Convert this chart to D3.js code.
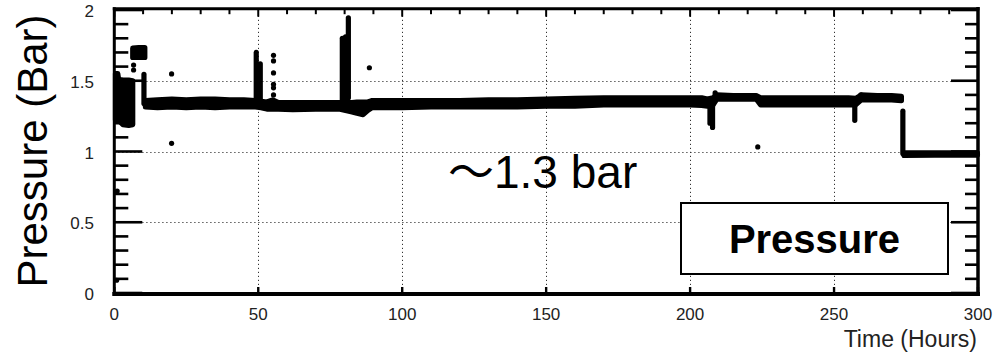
<!DOCTYPE html>
<html>
<head>
<meta charset="utf-8">
<script src="https://cdn.jsdelivr.net/npm/d3@7"></script>
<style>
  html, body { margin: 0; padding: 0; background: #fff; }
  svg { display: block; }
  text { font-family: "Liberation Sans", Arial, Helvetica, "Noto Sans CJK JP", sans-serif; }
</style>
</head>
<body>
<svg id="chart" width="996" height="353"></svg>
<script>
// Axis ticks
const timeTicks = [0, 50, 100, 150, 200, 250, 300];
const timeTickLabels = ["0", "50", "100", "150", "200", "250", "300"];
const pressureTicks = [0, 0.5, 1, 1.5, 2];
const pressureTickLabels = ["0", "0.5", "1", "1.5", "2"];

// Steady running: envelope of the dense stream of readings (hours, bar)
const bandHours = [10.8, 15, 20, 25, 30, 35, 40, 45, 49, 51,
                   53, 55, 57, 62, 70, 78, 82.6, 84.3, 86.4, 88,
                   89.6, 95, 100, 110, 120, 130, 140, 150, 160, 170,
                   180, 190, 200, 204, 206, 208, 209.3, 215, 223, 224.5,
                   230, 240, 250, 255, 257.5, 259.5, 265, 270, 273.4];
const bandLow = [1.315, 1.31, 1.315, 1.31, 1.315, 1.31, 1.315, 1.315, 1.315, 1.31,
                 1.30, 1.30, 1.30, 1.295, 1.30, 1.30, 1.28, 1.27, 1.26, 1.29,
                 1.31, 1.31, 1.31, 1.315, 1.315, 1.315, 1.315, 1.32, 1.32, 1.33,
                 1.33, 1.33, 1.33, 1.325, 1.32, 1.33, 1.37, 1.37, 1.37, 1.33,
                 1.33, 1.33, 1.33, 1.33, 1.33, 1.365, 1.365, 1.365, 1.36];
const bandHigh = [1.36, 1.365, 1.37, 1.365, 1.37, 1.37, 1.365, 1.365, 1.36, 1.355,
                  1.35, 1.365, 1.345, 1.345, 1.345, 1.345, 1.345, 1.35, 1.35, 1.35,
                  1.36, 1.36, 1.36, 1.36, 1.36, 1.365, 1.365, 1.37, 1.375, 1.38,
                  1.38, 1.38, 1.38, 1.38, 1.37, 1.38, 1.40, 1.395, 1.395, 1.38,
                  1.38, 1.38, 1.38, 1.38, 1.375, 1.40, 1.395, 1.395, 1.39];

// Filling phase: scattered readings during the first hours
const startHours = [0.4, 1.2, 1.5, 3, 5, 6.4];
const startLow = [1.225, 1.225, 1.22, 1.19, 1.185, 1.19];
const startHigh = [1.55, 1.55, 1.51, 1.505, 1.505, 1.50];

// Over-pressure cluster just after filling
const clusterHours = [6.4, 8.5, 10.6];
const clusterLow = [1.665, 1.665, 1.665];
const clusterHigh = [1.73, 1.735, 1.735];

// After venting to atmosphere
const tailHours = [274.3, 285, 299.8];
const tailLow = [0.972, 0.975, 0.975];
const tailHigh = [0.99, 0.99, 0.99];

// Bursts: many readings stacked at nearly the same hour
const burstHours = [10.3, 49.3, 50.7, 79.2, 80.3, 81.3, 206.9, 207.8, 208.7, 257.2, 259.3, 273.9];
const burstLow  = [1.34, 1.38, 1.37, 1.34, 1.34, 1.38, 1.20, 1.17, 1.37, 1.22, 1.37, 0.985];
const burstHigh = [1.545, 1.70, 1.62, 1.80, 1.81, 1.945, 1.36, 1.34, 1.415, 1.36, 1.40, 1.285];

// Isolated readings
const pointHours = [19.9, 19.9, 6.7, 6.7, 55.3, 55.3, 55.3, 55.3, 55.3, 55.3, 88.6, 223.5, 1.0, 0.8];
const pointPressure = [1.548, 1.058, 1.611, 1.576, 1.68, 1.64, 1.555, 1.475, 1.45, 1.40, 1.592, 1.032, 0.72, 0.09];

const svg = d3.select("#chart");
const x = d3.scaleLinear().domain([0, 300]).range([114.3, 978]);
const y = d3.scaleLinear().domain([0, 2]).range([293, 10]);
const markerR = 2.6;

// Dotted grid
const grid = svg.append("g").attr("stroke", "#333").attr("stroke-width", 1)
  .attr("stroke-dasharray", "1.2,2.8");
grid.selectAll("line.v").data(timeTicks.slice(1, -1)).join("line")
  .attr("x1", d => Math.round(x(d)) + 0.5).attr("x2", d => Math.round(x(d)) + 0.5)
  .attr("y1", y(0)).attr("y2", y(2));
grid.selectAll("line.h").data(pressureTicks.slice(1, -1)).join("line")
  .attr("y1", d => Math.round(y(d)) + 0.5).attr("y2", d => Math.round(y(d)) + 0.5)
  .attr("x1", x(0)).attr("x2", x(300));

// Readings
const data = svg.append("g").attr("fill", "#000").attr("stroke", "#000");
const area = d3.area().x(d => x(d.t)).y0(d => y(d.lo)).y1(d => y(d.hi));
function envelope(hours, low, high) {
  const rows = hours.map((t, i) => ({ t, lo: low[i], hi: high[i] }));
  data.append("path").datum(rows).attr("d", area)
    .attr("stroke-width", markerR * 2).attr("stroke-linejoin", "round");
}
envelope(startHours, startLow, startHigh);
envelope(clusterHours, clusterLow, clusterHigh);
envelope(bandHours, bandLow, bandHigh);
envelope(tailHours, tailLow, tailHigh);

data.selectAll("line.burst").data(burstHours.map((t, i) => ({ t, lo: burstLow[i], hi: burstHigh[i] })))
  .join("line")
  .attr("x1", d => x(d.t)).attr("x2", d => x(d.t))
  .attr("y1", d => y(d.lo)).attr("y2", d => y(d.hi))
  .attr("stroke-width", markerR * 2).attr("stroke-linecap", "round");

data.selectAll("circle").data(pointHours.map((t, i) => ({ t, p: pointPressure[i] })))
  .join("circle")
  .attr("cx", d => x(d.t)).attr("cy", d => y(d.p)).attr("r", markerR).attr("stroke", "none");

// Annotation
svg.append("text").attr("x", 448).attr("y", 188).attr("font-size", 46).attr("fill", "#000")
  .text("～1.3 bar");

// Legend box
svg.append("rect").attr("x", 681).attr("y", 203).attr("width", 267).attr("height", 71)
  .attr("fill", "#fff").attr("stroke", "#000").attr("stroke-width", 2);
svg.append("text").attr("x", 814.5).attr("y", 253).attr("text-anchor", "middle")
  .attr("font-size", 40).attr("font-weight", "bold").attr("fill", "#000").text("Pressure");

// Tick marks
const ticks = svg.append("g").attr("stroke", "#000");
const isMajorY = v => Math.abs(v * 2 - Math.round(v * 2)) < 1e-6;
const yMinor = y.ticks(20);
ticks.selectAll("line.yl").data(yMinor).join("line")
  .attr("x1", x(0)).attr("x2", d => x(0) + (isMajorY(d) ? 28 : 14))
  .attr("y1", d => y(d)).attr("y2", d => y(d)).attr("stroke-width", 2.6);
ticks.selectAll("line.yr").data(yMinor).join("line")
  .attr("x1", x(300)).attr("x2", d => x(300) - (isMajorY(d) ? 27 : 13))
  .attr("y1", d => y(d)).attr("y2", d => y(d)).attr("stroke-width", 2.6);
const xMinor = x.ticks(30);
ticks.selectAll("line.xt").data(xMinor).join("line")
  .attr("x1", d => x(d)).attr("x2", d => x(d))
  .attr("y1", 8.7).attr("y2", d => 8.7 + (d % 50 === 0 ? 8 : 5.5)).attr("stroke-width", 2);
ticks.selectAll("line.xb").data(timeTicks).join("line")
  .attr("x1", d => x(d)).attr("x2", d => x(d))
  .attr("y1", 294).attr("y2", 287).attr("stroke-width", 2.4);

// Frame
const frame = svg.append("g").attr("stroke", "#000").attr("stroke-linecap", "square");
frame.append("line").attr("x1", x(0)).attr("x2", x(0)).attr("y1", 8.7).attr("y2", 294).attr("stroke-width", 3);
frame.append("line").attr("x1", x(0)).attr("x2", x(300)).attr("y1", 8.7).attr("y2", 8.7).attr("stroke-width", 3);
frame.append("line").attr("x1", x(300)).attr("x2", x(300)).attr("y1", 8.7).attr("y2", 294).attr("stroke-width", 3.5);
frame.append("line").attr("x1", x(0)).attr("x2", x(300)).attr("y1", 294).attr("y2", 294).attr("stroke-width", 4);

// Tick labels
svg.append("g").selectAll("text").data(pressureTicks).join("text")
  .attr("x", 94).attr("y", d => y(d) + 1.5).attr("dominant-baseline", "central")
  .attr("text-anchor", "end").attr("font-size", 17).attr("fill", "#222")
  .text((d, i) => pressureTickLabels[i]);
svg.append("g").selectAll("text").data(timeTicks).join("text")
  .attr("x", d => x(d)).attr("y", 320).attr("text-anchor", "middle")
  .attr("font-size", 17).attr("fill", "#222")
  .text((d, i) => timeTickLabels[i]);

// Axis titles
svg.append("text").attr("x", 977).attr("y", 347).attr("text-anchor", "end")
  .attr("font-size", 23).attr("fill", "#222").text("Time (Hours)");
svg.append("text").attr("transform", "translate(47,151) rotate(-90)")
  .attr("text-anchor", "middle").attr("font-size", 42).attr("fill", "#000")
  .text("Pressure (Bar)");
</script>
</body>
</html>
